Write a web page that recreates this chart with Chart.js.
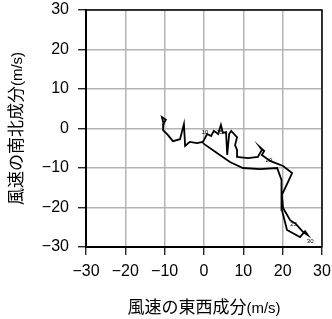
<!DOCTYPE html>
<html>
<head>
  <meta charset="utf-8">
  <script src="https://cdn.jsdelivr.net/npm/chart.js"></script>
  <title>風速ホドグラフ</title>
  <style>
    html, body { margin: 0; padding: 0; background: #fff; }
    #wrap { width: 332px; height: 319px; }
  </style>
</head>
<body>
  <div id="wrap"><canvas id="hodo" width="332" height="319"></canvas></div>
  <script>
    // 東西成分 u (m/s)
    const windU = [-10.2, -10.7, -9.7, -10.4, -10.4, -9.2, -7.9, -6.1, -5.1, -4.8,
      -3.6, -1.8, -0.3, 0.8, 1.8, 2.5, 3.6, 4.3, 4.8, 5.6,
      5.9, 6.4, 6.9, 8.4, 7.9, 8.4, 8.4, 11.2, 13.7, 14.7,
      14.2, 15.3, 14.7, 16.8, 20.1, 22.4, 21.1, 19.8, 20.1, 21.9,
      23.4, 25.2, 26.4, 25.7, 24.4, 21.1, 19.8, 19.6, 19.8, 18.6,
      14.2, 9.9, 6.6, 3.3, -0.3];
    // 南北成分 v (m/s)
    const windV = [0.9, 2.9, 2.2, 1.1, -0.4, -1.6, -3.2, -2.7, 1.1, -4.4,
      -3.4, -3.7, -3.4, -1.4, -1.9, -0.6, -1.4, 0.9, -1.1, -0.9,
      -6.7, -1.4, -0.6, -2.2, -4.2, -5.4, -7.2, -7.5, -7.2, -5.4,
      -4.7, -5.7, -6.7, -8.2, -9.5, -11.3, -14.1, -16.8, -20.1, -23.2,
      -24.2, -26.2, -27.0, -26.0, -27.5, -25.7, -20.6, -16.8, -13.0, -10.0,
      -10.3, -10.0, -8.5, -6.2, -3.7];
    // 高度ラベル
    const levelText = ['10', '15', '20', '25', '30'];
    const levelU = [0.2, 4.0, 16.5, 22.8, 27.0];
    const levelV = [-1.0, -0.9, -8.0, -24.2, -28.5];
    const axisTicks = [-30, -20, -10, 0, 10, 20, 30];

    const points = windU.map((u, i) => ({ x: u, y: windV[i] }));
    const fmt = v => (v < 0 ? '\u2212' + Math.abs(v) : String(v));

    // 枠・目盛り数字・軸タイトル・高度ラベルを描く
    const decor = {
      id: 'decor',
      beforeDatasetsDraw(chart) {
        const { ctx, chartArea: a } = chart;
        ctx.save();
        ctx.strokeStyle = '#000';
        ctx.lineWidth = 1.5;
        ctx.beginPath();
        ctx.moveTo(a.left, a.top);
        ctx.lineTo(a.right, a.top);
        ctx.lineTo(a.right, a.bottom);
        ctx.stroke();
        ctx.restore();
      },
      afterDraw(chart) {
        const { ctx, chartArea: a, scales } = chart;
        ctx.save();
        ctx.fillStyle = '#000';
        // 目盛り数字
        ctx.font = '16px "Liberation Sans"';
        ctx.textAlign = 'center';
        ctx.textBaseline = 'middle';
        axisTicks.forEach(v => {
          ctx.fillText(fmt(v), scales.x.getPixelForValue(v), a.bottom + 25);
        });
        ctx.textAlign = 'right';
        axisTicks.forEach(v => {
          ctx.fillText(fmt(v), 69, scales.y.getPixelForValue(v));
        });
        // 高度ラベル
        ctx.font = '6px "Liberation Sans"';
        ctx.textAlign = 'center';
        levelText.forEach((t, i) => {
          ctx.fillText(t, scales.x.getPixelForValue(levelU[i]), scales.y.getPixelForValue(levelV[i]));
        });
        // 軸タイトル
        const jp = '17px "Noto Sans CJK JP"';
        const unit = '15px "Liberation Sans"';
        function title(main, x, y, rot) {
          ctx.save();
          ctx.translate(x, y);
          ctx.rotate(rot);
          ctx.textBaseline = 'alphabetic';
          ctx.textAlign = 'left';
          ctx.font = jp;
          const w1 = ctx.measureText(main).width;
          ctx.font = unit;
          const w2 = ctx.measureText('(m/s)').width;
          const x0 = -(w1 + w2) / 2;
          ctx.font = jp;
          ctx.fillText(main, x0, 6);
          ctx.font = unit;
          ctx.fillText('(m/s)', x0 + w1, 6);
          ctx.restore();
        }
        title('風速の東西成分', (a.left + a.right) / 2, 307, 0);
        title('風速の南北成分', 16, (a.top + a.bottom) / 2, -Math.PI / 2);
        ctx.restore();
      }
    };

    const gridStyle = { color: '#b4b4b4', lineWidth: 1.5, tickColor: '#000', tickLength: 8, tickWidth: 1.2 };

    new Chart(document.getElementById('hodo'), {
      type: 'scatter',
      data: {
        datasets: [{
          data: points,
          showLine: true,
          borderColor: '#000',
          borderWidth: 1.8,
          pointRadius: 0,
          tension: 0
        }]
      },
      options: {
        responsive: false,
        animation: false,
        layout: { padding: { top: 10, right: 10, left: 0, bottom: 0 } },
        plugins: { legend: { display: false }, tooltip: { enabled: false } },
        scales: {
          x: {
            min: -30, max: 30,
            afterBuildTicks: s => { s.ticks = axisTicks.map(v => ({ value: v })); },
            afterFit: s => { s.height = 72; },
            grid: gridStyle,
            border: { color: '#000', width: 2 },
            ticks: { display: false }
          },
          y: {
            min: -30, max: 30,
            afterBuildTicks: s => { s.ticks = axisTicks.map(v => ({ value: v })); },
            afterFit: s => { s.width = 86; },
            grid: gridStyle,
            border: { color: '#000', width: 2 },
            ticks: { display: false }
          }
        }
      },
      plugins: [decor]
    });
  </script>
</body>
</html>
